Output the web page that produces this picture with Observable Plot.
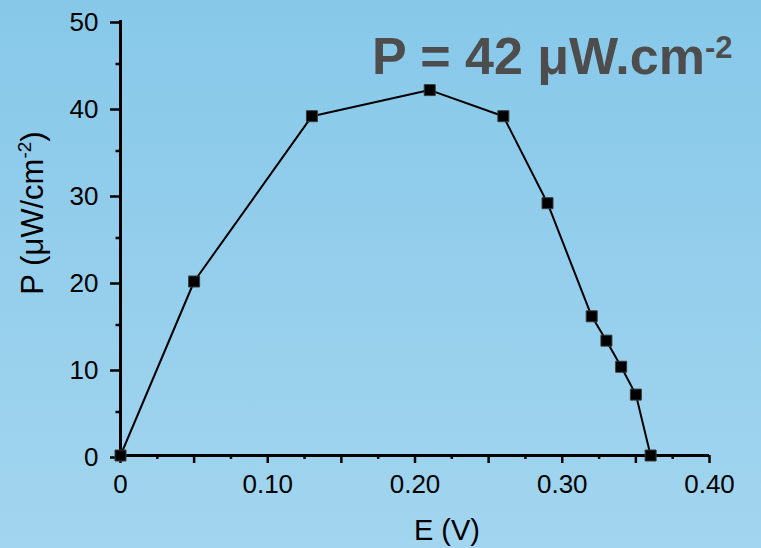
<!DOCTYPE html>
<html>
<head>
<meta charset="utf-8">
<script src="https://cdn.jsdelivr.net/npm/d3@7"></script>
<script src="https://cdn.jsdelivr.net/npm/@observablehq/plot@0.6"></script>
<style>
  html, body { margin: 0; padding: 0; }
  body {
    width: 761px; height: 548px; overflow: hidden;
    background: linear-gradient(to bottom, #87c8e9 0%, #a2d5ef 100%);
    font-family: "Liberation Sans", Arial, sans-serif;
  }
  #chart { position: relative; width: 761px; height: 548px; }
</style>
</head>
<body>
<div id="chart"></div>
<script>
// Data
const E = [0, 0.05, 0.13, 0.21, 0.26, 0.29, 0.32, 0.33, 0.34, 0.35, 0.36];
const P = [0, 20, 39, 42, 39, 29, 16, 13.2, 10.2, 7, 0];

// Ticks
const xLongTicks = [0, 0.05, 0.1, 0.15, 0.2, 0.25, 0.3, 0.35, 0.4];
const xShortTicks = [0.025, 0.075, 0.125, 0.175, 0.225, 0.275, 0.325, 0.375];
const xLabelTicks = [0, 0.1, 0.2, 0.3, 0.4];
const xTickLabels = ["0", "0.10", "0.20", "0.30", "0.40"];
const yMajorTicks = [0, 10, 20, 30, 40, 50];
const yMinorTicks = [5, 15, 25, 35, 45];

const titleMain = "P = 42 μW.cm";
const titleSup = "-2";
const xTitle = "E (V)";
const yTitleMain = "P (μW/cm";
const yTitleSup = "-2";
const yTitleEnd = ")";

const data = E.map((e, i) => ({E: e, P: P[i]}));

function xFmt(d) {
  const i = xLabelTicks.findIndex(t => Math.abs(t - d) < 1e-9);
  return i >= 0 ? xTickLabels[i] : "";
}

const plot = Plot.plot({
  width: 761,
  height: 548,
  marginLeft: 120,
  marginRight: 52,
  marginTop: 20,
  marginBottom: 93,
  style: {background: "transparent", fontFamily: "'Liberation Sans', Arial, sans-serif", fontSize: "26px", color: "#000"},
  x: {domain: [0, 0.4]},
  y: {domain: [0, 50]},
  marks: [
    Plot.axisX({ticks: xShortTicks, tickSize: 4, tickFormat: () => "", strokeWidth: 2.5, label: null}),
    Plot.axisX({ticks: xLongTicks, tickSize: 8, tickPadding: 11, tickFormat: xFmt, strokeWidth: 2.5, fontSize: 26, fill: "#000", label: null}),
    Plot.axisY({ticks: yMinorTicks, tickSize: 4.5, tickFormat: () => "", strokeWidth: 2.5, label: null}),
    Plot.axisY({ticks: yMajorTicks, tickSize: 10, tickPadding: 12, tickFormat: d => String(d), strokeWidth: 2.5, fontSize: 26, fill: "#000", dy: 2, label: null}),
    Plot.ruleY([0], {stroke: "#000", strokeWidth: 3}),
    Plot.ruleX([0], {stroke: "#000", strokeWidth: 3}),
    Plot.line(data, {x: "E", y: "P", stroke: "#000", strokeWidth: 2}),
    Plot.dot(data, {x: "E", y: "P", symbol: "square", r: 6.2, fill: "#000", stroke: "#3a3a3a", strokeWidth: 1})
  ]
});

document.getElementById("chart").appendChild(plot);

const svg = d3.select(plot);
// Title
const t = svg.append("text")
  .attr("x", 372).attr("y", 74)
  .attr("text-anchor", "start")
  .attr("font-family", "'Liberation Sans', Arial, sans-serif")
  .attr("font-weight", "bold")
  .attr("font-size", 52)
  .attr("fill", "#4d4d4d");
t.append("tspan").text(titleMain);
t.append("tspan").attr("dy", -16).attr("font-size", 31).text(titleSup);

// X title
svg.append("text")
  .attr("x", 447).attr("y", 540)
  .attr("text-anchor", "middle")
  .attr("font-family", "'Liberation Sans', Arial, sans-serif")
  .attr("font-size", 29)
  .attr("fill", "#000")
  .text(xTitle);

// Y title
const yt = svg.append("text")
  .attr("transform", "translate(43,213) rotate(-90)")
  .attr("text-anchor", "middle")
  .attr("font-family", "'Liberation Sans', Arial, sans-serif")
  .attr("font-size", 31)
  .attr("fill", "#000");
yt.append("tspan").text(yTitleMain);
yt.append("tspan").attr("dy", -12).attr("font-size", 19).text(yTitleSup);
yt.append("tspan").attr("dy", 12).text(yTitleEnd);
</script>
</body>
</html>
